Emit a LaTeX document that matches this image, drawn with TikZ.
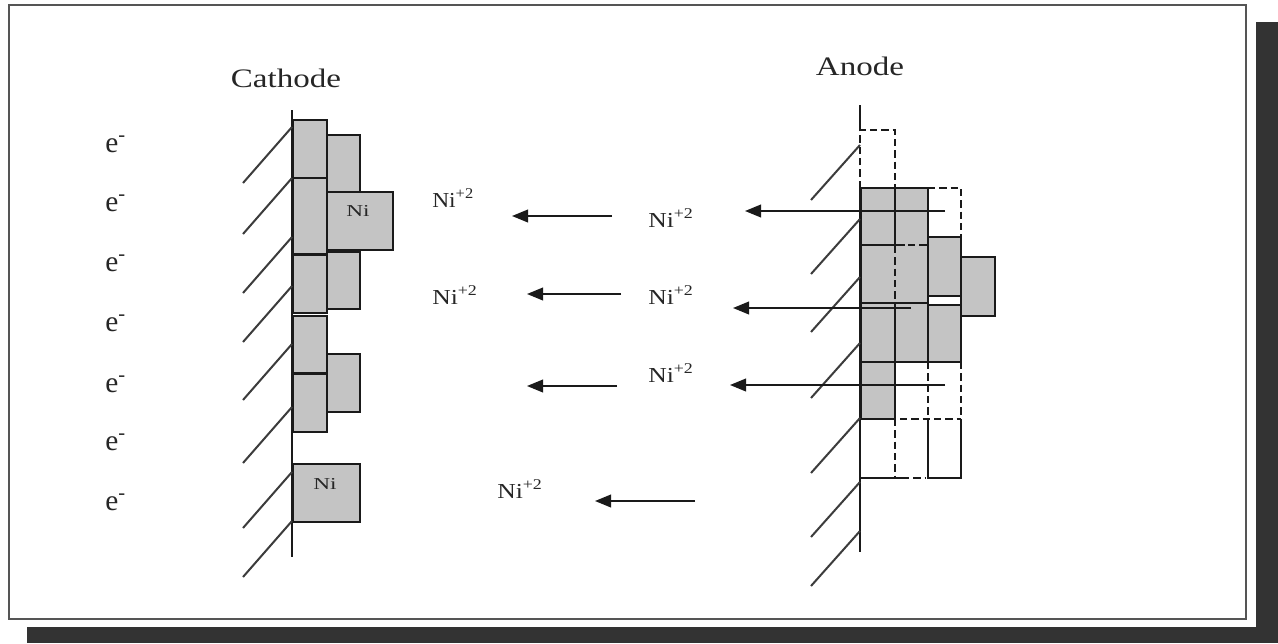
\documentclass[tikz,border=0pt]{standalone}
\usepackage{fontspec}
\setmainfont{Liberation Serif}
\usetikzlibrary{arrows.meta}
\definecolor{shadowc}{HTML}{333333}
\definecolor{fillc}{HTML}{C4C4C4}
\definecolor{framec}{HTML}{555555}
\definecolor{linec}{HTML}{1A1A1A}
\newcommand{\wideby}[2]{\scalebox{#1}[1]{#2}}
\tikzset{
  x=0.75pt,y=-0.75pt,
  frameline/.style={draw=framec,line width=1.8pt},
  cell/.style={draw=linec,fill=fillc,line width=1.6pt},
  wall/.style={draw=linec,line width=1.7pt},
  hatch/.style={draw=linec!85!white,line width=1.5pt},
  dashline/.style={draw=linec,line width=1.7pt,dash pattern=on 5.5pt off 3pt},
  solidline/.style={draw=linec,line width=1.6pt},
  ionarrow/.style={draw=linec,line width=1.3pt,-{Triangle[length=12pt,width=9.5pt]}},
  lbl/.style={inner sep=0pt,text=black!85},
  title/.style={lbl,font=\fontsize{20}{22}\selectfont},
  ion/.style={lbl,anchor=base west,font=\fontsize{16}{18}\selectfont},
  elec/.style={lbl,anchor=base west,font=\fontsize{22}{24}\selectfont},
  small/.style={lbl,font=\fontsize{12.5}{14}\selectfont},
}
\begin{document}
\begin{tikzpicture}
\useasboundingbox (0,0) rectangle (1278,643);
\fill[white] (0,0) rectangle (1278,643);
% shadow and frame
\fill[shadowc] (1256,22) rectangle (1278,643);
\fill[shadowc] (27,627) rectangle (1278,643);
\draw[frameline] (9,5) rectangle (1246,619);

% cathode cells
\foreach \xa/\ya/\xb/\yb in {293/120/327/178,293/178/327/254,293/255/327/313,293/316/327/373,293/374/327/432,
  327/135/360/192,327/252/360/309,327/354/360/412,327/192/393/250,293/464/360/522}
  \draw[cell] (\xa,\ya) rectangle (\xb,\yb);
% cathode wall and hatching
\draw[wall] (292,110) -- (292,557);
\foreach \y in {127,178,237,286,344,407,472,521}
  \draw[hatch] (292,\y) -- (243,\y+56);

% anode cells
\foreach \xa/\ya/\xb/\yb in {861/188/895/245,895/188/928/245,861/245/895/303,895/245/928/303,
  861/303/895/362,895/303/928/362,928/305/961/362,861/362/895/419,928/237/961/296,961/257/995/316}
  \draw[cell] (\xa,\ya) rectangle (\xb,\yb);
% anode outlines: seams between cells shown dashed, plus unfilled cells
\draw[draw=fillc,line width=2pt] (895,246) -- (895,302);
\draw[dashline] (895,246) -- (895,302);
\draw[draw=fillc,line width=2pt] (905,245) -- (927,245);
\draw[dashline] (908,245) -- (928,245);
\draw[dashline] (860,188) -- (860,130) -- (895,130) -- (895,188);
\draw[dashline] (928,188) -- (961,188) -- (961,237);
\draw[dashline] (928,362) -- (928,419);
\draw[dashline] (961,362) -- (961,419);
\draw[dashline] (900,419) -- (961,419);
\draw[dashline] (895,419) -- (895,478);
\draw[dashline] (902,478) -- (925,478);
\draw[solidline] (895,362) -- (961,362);
\draw[solidline] (860,478) -- (902,478);
\draw[solidline] (928,419) -- (928,478) -- (961,478) -- (961,419);
% anode wall and hatching
\draw[wall] (860,105) -- (860,130);
\draw[wall] (860,188) -- (860,552);
\foreach \y in {145,219,277,343,418,482,531}
  \draw[hatch] (860,\y) -- (811,\y+55);

% arrows
\coordinate (c1s) at (612,216); \coordinate (c1e) at (512,216);
\coordinate (c2s) at (621,294); \coordinate (c2e) at (527,294);
\coordinate (c3s) at (617,386); \coordinate (c3e) at (527,386);
\coordinate (c4s) at (695,501); \coordinate (c4e) at (595,501);
\coordinate (a1s) at (945,211); \coordinate (a1e) at (745,211);
\coordinate (a2s) at (911,308); \coordinate (a2e) at (733,308);
\coordinate (a3s) at (945,385); \coordinate (a3e) at (730,385);
\foreach \n in {c1,c2,c3,c4,a1,a2,a3}
  \draw[ionarrow] (\n s) -- (\n e);

% labels
\node[title] (cathode) at (286,78) {\wideby{1.24}{Cathode}};
\node[title] (anode) at (860,66) {\wideby{1.24}{Anode}};
\foreach \y [count=\i] in {152,211,271,331,392,450,510}
  \node[elec] (e\i) at (105,\y) {e\textsuperscript{-}};
\node[ion] (n1) at (432,207) {\wideby{1.1}{Ni\textsuperscript{+2}}};
\node[ion] (n2) at (432,304) {\wideby{1.2}{Ni\textsuperscript{+2}}};
\node[ion] (n3) at (648,227) {\wideby{1.2}{Ni\textsuperscript{+2}}};
\node[ion] (n4) at (648,304) {\wideby{1.2}{Ni\textsuperscript{+2}}};
\node[ion] (n5) at (648,382) {\wideby{1.2}{Ni\textsuperscript{+2}}};
\node[ion] (n6) at (497,498) {\wideby{1.2}{Ni\textsuperscript{+2}}};
\node[small] (ni1) at (358,211) {\wideby{1.4}{Ni}};
\node[small] (ni2) at (325,484) {\wideby{1.4}{Ni}};
\end{tikzpicture}
\end{document}
